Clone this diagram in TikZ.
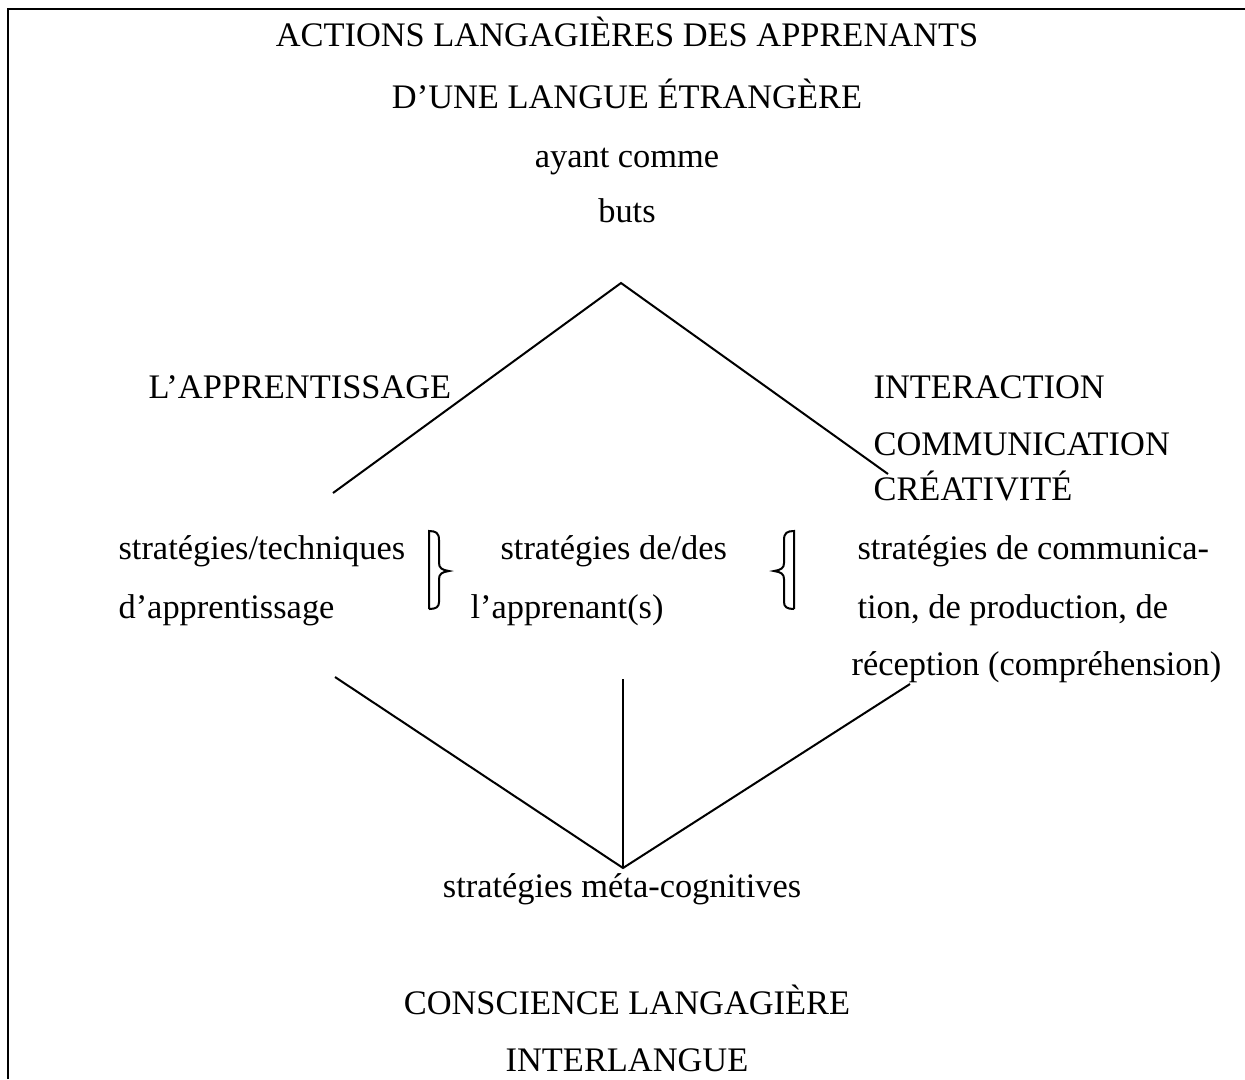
\documentclass[tikz,border=0pt]{standalone}
\usepackage{fontspec}
\setmainfont{Liberation Serif}
\usetikzlibrary{positioning}

\begin{document}
\begin{tikzpicture}[
  x=0.3488pt, y=-0.3488pt,
  font=\fontsize{12}{14}\selectfont,
  txt/.style={inner sep=0pt, anchor=base west},
  ctxt/.style={inner sep=0pt, anchor=base},
  link/.style={line width=0.7pt, black},
]
\useasboundingbox (0,0) rectangle (1245,1079);

% Frame: left and top only
\draw[link] (8,1079) -- (8,9) -- (1245,9);

% Title block
\node[ctxt] (title)    at (627,46)  {ACTIONS LANGAGIÈRES DES APPRENANTS};
\node[ctxt] (subtitle) at (627,108) {D’UNE LANGUE ÉTRANGÈRE};
\node[ctxt] (ayant)    at (627,167) {ayant comme};
\node[ctxt] (buts)     at (627,222) {buts};

% The two aims
\node[txt] (apprent)  at (148,398) {L’APPRENTISSAGE};
\node[txt] (interact) at (873,398) {INTERACTION};
\node[txt] (commun)   at (873,455) {COMMUNICATION};
\node[txt] (creat)    at (873,500) {CRÉATIVITÉ};

% Three kinds of strategies
\node[txt] (strattech)  at (118,559) {stratégies/techniques};
\node[txt] (dapprent)   at (118,618) {d’apprentissage};
\node[txt] (stratdes)   at (500,559) {stratégies de/des};
\node[txt] (lapprenant) at (470,618) {l’apprenant(s)};
\node[txt] (stratcomm)  at (857,559) {stratégies de communica-};
\node[txt] (tionprod)   at (857,618) {tion, de production, de};
\node[txt] (reception)  at (851,675) {réception (compréhension)};

% Bottom block
\node[ctxt] (meta)        at (622,897)  {stratégies méta-cognitives};
\node[ctxt] (conscience)  at (627,1014) {CONSCIENCE LANGAGIÈRE};
\node[ctxt] (interlangue) at (627,1071) {INTERLANGUE};

% Line end points
\coordinate (apex)  at (621,283);
\coordinate (leftA) at (333,493);
\coordinate (rightA) at (888,474);
\coordinate (leftB) at (335,677);
\coordinate (midB)  at (623,679);
\coordinate (rightB) at (910,684);
\coordinate (foot)  at (623,868);

% Upper fork
\draw[link] (leftA) -- (apex) -- (rightA);

% Lower fork
\draw[link] (leftB) -- (foot) -- (rightB);
\draw[link] (midB) -- (foot);

% Braces between the columns
\draw[link] (429,609) -- (429,531)
  .. controls (436,531) and (439,533) .. (439,540) -- (439,563)
  .. controls (439,568) and (442,570) .. (449,571)
  .. controls (442,572) and (439,574) .. (439,579) -- (439,602)
  .. controls (439,607) and (436,609) .. (429,609);
\draw[link] (794,609) -- (794,531)
  .. controls (787,531) and (784,533) .. (784,540) -- (784,563)
  .. controls (784,568) and (781,570) .. (774,571)
  .. controls (781,572) and (784,574) .. (784,579) -- (784,602)
  .. controls (784,607) and (787,609) .. (794,609);

\end{tikzpicture}
\end{document}
